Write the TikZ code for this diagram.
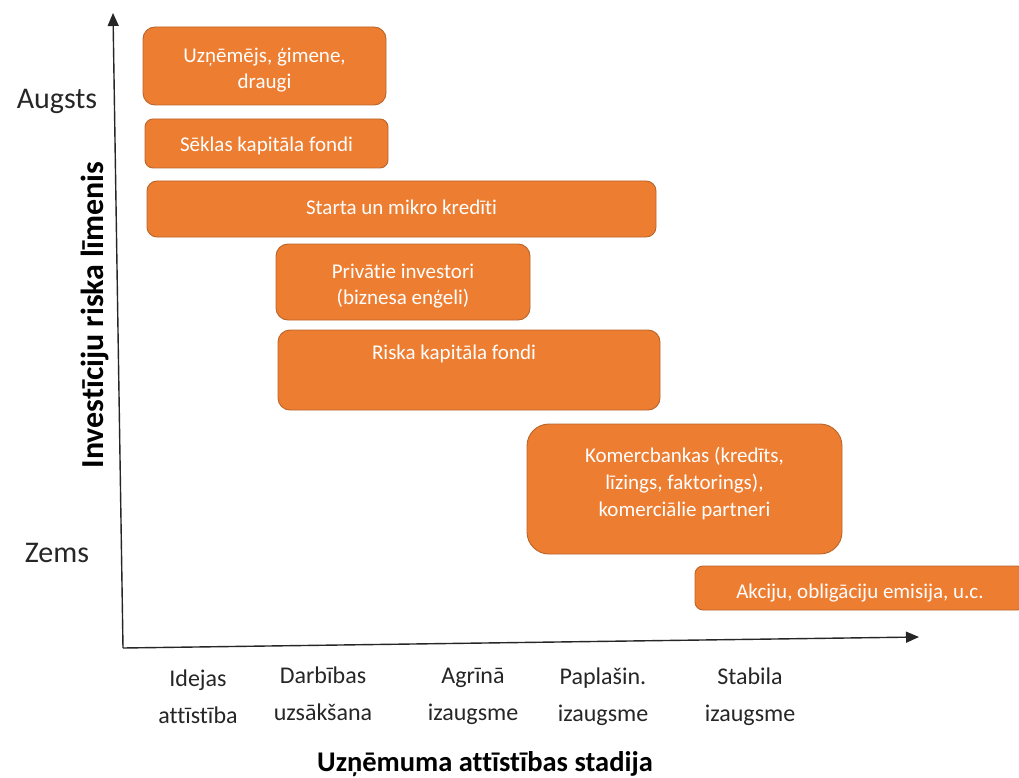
\documentclass[tikz,border=0pt]{standalone}
\usepackage{fontspec}
\setmainfont{Carlito}[Ligatures=NoCommon]
\usetikzlibrary{arrows.meta}
\definecolor{fin}{HTML}{ED7D31}
\definecolor{finedge}{HTML}{B9652A}
\definecolor{ink}{HTML}{262626}
\begin{document}
\begin{tikzpicture}[x=1pt,y=-1pt,
  fund/.style={draw=finedge, line width=0.9pt, fill=fin, text=white,
    align=center, inner sep=0pt, font=\fontsize{21}{26}\selectfont},
  level/.style={font=\fontsize{30}{34}\selectfont, text=ink},
  stage/.style={font=\fontsize{24}{37}\selectfont, align=center, text=ink},
  axtitle/.style={font=\bfseries\fontsize{28.5}{32}\selectfont, text=black},
  axisline/.style={line width=1.4pt, draw=ink, -{Triangle[length=13pt,width=11pt]}}
]
\useasboundingbox (0,0) rectangle (1019,778);
\clip (0,0) rectangle (1019,778);
\fill[white] (0,0) rectangle (1019,778);

% axes
\coordinate (origin) at (123,648);
\coordinate (ytip) at (113,13);
\coordinate (xtip) at (919,637);
\draw[axisline] (origin) -- (ytip);
\draw[axisline] (origin) -- (xtip);

% risk levels
\node[level] (high) at (57,101) {Augsts};
\node[level] (low) at (57,553) {Zems};
\node[axtitle, font=\bfseries\fontsize{32}{36}\selectfont, rotate=90] (ytitle) at (95,315) {Investīciju riska līmenis};

% stages
\node[stage] (s1) at (198,697) {Idejas\\attīstība};
\node[stage] (s2) at (323,694) {Darbības\\uzsākšana};
\node[stage] (s3) at (473,696) {Agrīnā\\izaugsme};
\node[stage] (s4) at (603,697) {Paplašin.\\izaugsme};
\node[stage] (s5) at (750,697) {Stabila\\izaugsme};
\node[axtitle] (xtitle) at (485,764) {Uzņēmuma attīstības stadija};

% funding sources
\node[fund, rounded corners=12pt, minimum width=243pt, minimum height=78pt, text height=50pt, text depth=4pt] (ent) at (264.5,66) {Uzņēmējs, ģimene,\\draugi};
\node[fund, rounded corners=8pt, minimum width=243pt, minimum height=49pt, text height=22pt, text depth=5pt] (seed) at (266.5,143.5) {Sēklas kapitāla fondi};
\node[fund, rounded corners=10pt, minimum width=509pt, minimum height=56pt, text height=17pt, text depth=6pt] (micro) at (401.5,209) {Starta un mikro kredīti};
\node[fund, rounded corners=12pt, minimum width=254pt, minimum height=76pt, text height=48pt, text depth=4pt] (angel) at (403,282) {Privātie investori\\(biznesa enģeli)};
\node[fund, rounded corners=12pt, minimum width=382pt, text height=29pt, text depth=51pt] (vc) at (469,370) {Riska kapitāla fondi\hspace*{30pt}};
\node[fund, font=\fontsize{21}{27}\selectfont, rounded corners=22pt, minimum width=315pt, minimum height=130pt, text height=58pt, text depth=4pt] (bank) at (684.5,489) {Komercbankas (kredīts,\\līzings, faktorings),\\komerciālie partneri};
\node[fund, rounded corners=8pt, minimum width=330pt, minimum height=44pt, text height=24pt, text depth=4pt] (shares) at (860,588) {Akciju, obligāciju emisija, u.c.};
\end{tikzpicture}
\end{document}
